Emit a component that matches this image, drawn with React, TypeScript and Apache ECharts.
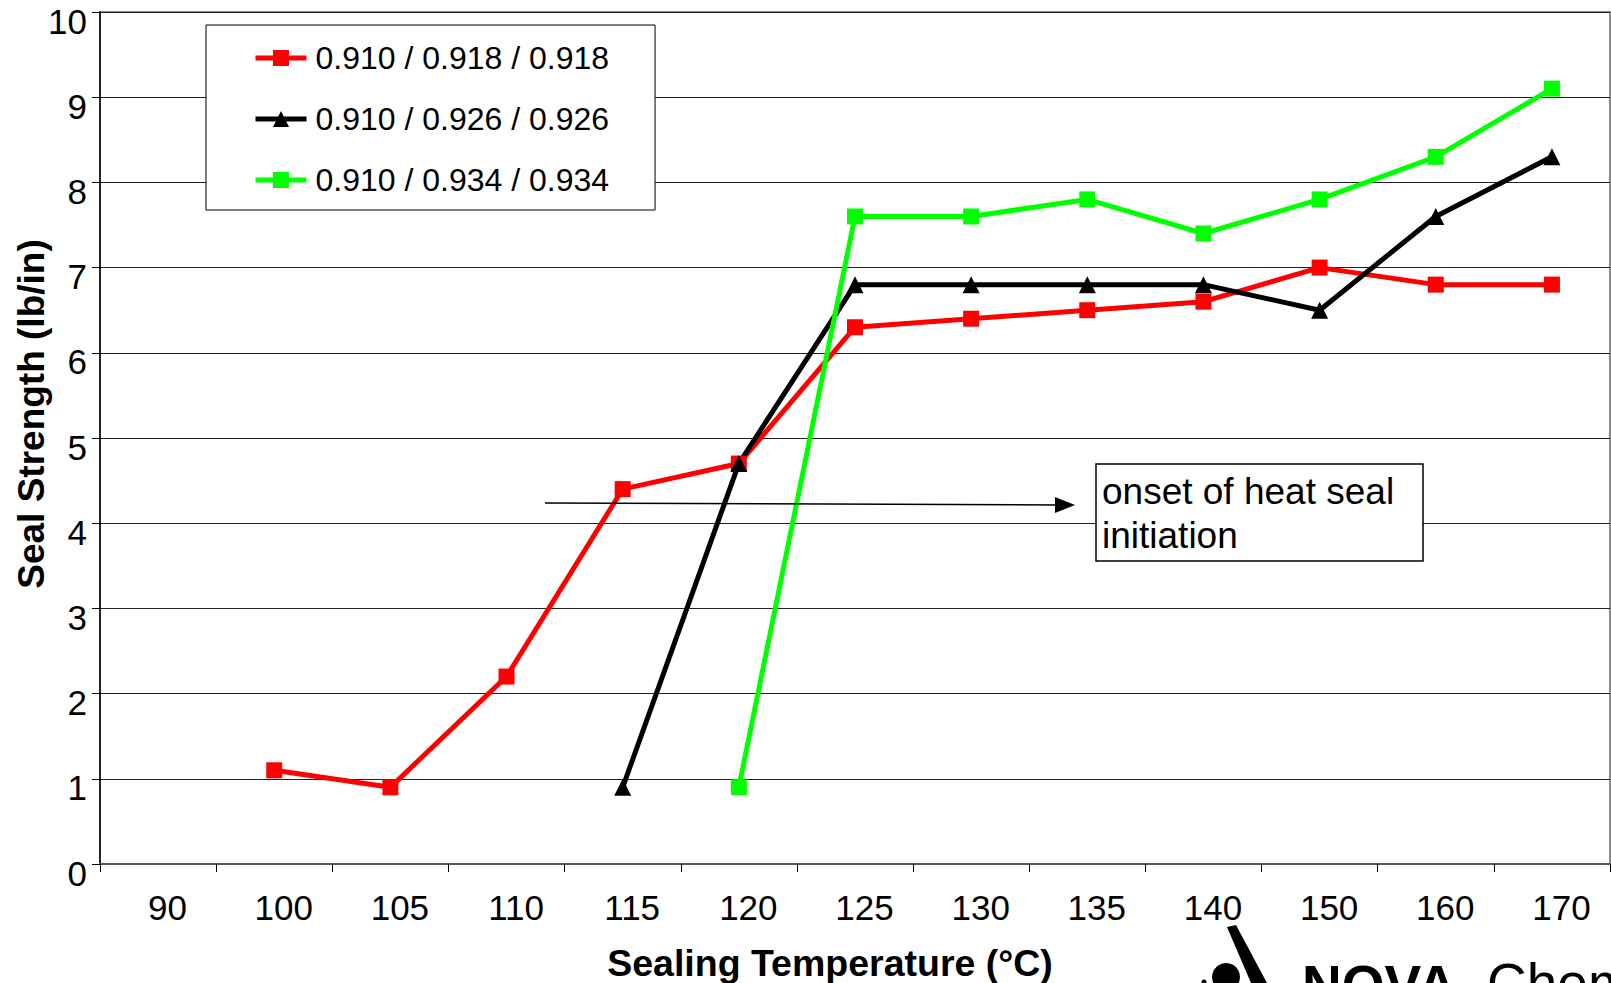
import React, { useEffect, useRef } from "react";
import * as echarts from "echarts";

// Sealing temperatures (°C) used as category labels
const temperatures = ["90", "100", "105", "110", "115", "120", "125", "130", "135", "140", "150", "160", "170"];

// Film structures (skin / core / skin densities)
const seriesNames = ["0.910 / 0.918 / 0.918", "0.910 / 0.926 / 0.926", "0.910 / 0.934 / 0.934"];

// Seal strength (lb/in) per temperature
const strength918 = [null, 1.1, 0.9, 2.2, 4.4, 4.7, 6.3, 6.4, 6.5, 6.6, 7.0, 6.8, 6.8];
const strength926 = [null, null, null, null, 0.9, 4.7, 6.8, 6.8, 6.8, 6.8, 6.5, 7.6, 8.3];
const strength934 = [null, null, null, null, null, 0.9, 7.6, 7.6, 7.8, 7.4, 7.8, 8.3, 9.1];

const seriesColors = ["#ff0000", "#000000", "#00ff00"];
const seriesSymbols = ["rect", "triangle", "rect"];

const yMin = 0;
const yMax = 10;
const yStep = 1;

const FONT = "'Liberation Sans', Arial, Helvetica, sans-serif";

export default function App() {
  const ref = useRef<HTMLDivElement>(null);

  useEffect(() => {
    if (!ref.current) return;
    const chart = echarts.init(ref.current, undefined, { renderer: "svg" });

    const values = [strength918, strength926, strength934];

    const option: any = {
      animation: false,
      backgroundColor: "#ffffff",
      textStyle: { fontFamily: FONT },
      grid: {
        left: 100,
        right: 1,
        top: 12,
        bottom: 119,
        containLabel: false,
        outerBoundsMode: "none",
        show: true,
        borderColor: "#8a8a8a",
        borderWidth: 2,
        backgroundColor: "transparent",
      },
      legend: {
        orient: "vertical",
        left: 206,
        top: 25,
        padding: [17, 46, 14, 47],
        itemWidth: 51,
        itemHeight: 20,
        itemGap: 29,
        borderColor: "#000",
        borderWidth: 1,
        backgroundColor: "#ffffff",
        lineStyle: { width: 5 },
        textStyle: {
          fontFamily: FONT,
          fontSize: 32,
          lineHeight: 32,
          color: "#000",
          padding: [0, 0, 0, 4],
        },
        data: seriesNames,
      },
      xAxis: {
        type: "category",
        data: temperatures,
        boundaryGap: true,
        name: "Sealing Temperature (°C)",
        nameLocation: "middle",
        nameGap: 80,
        nameTextStyle: {
          fontFamily: FONT,
          fontSize: 37.5,
          fontWeight: "bold",
          color: "#000",
          lineHeight: 37,
          padding: [0, 50, 0, 0],
        },
        axisLine: { show: true, lineStyle: { color: "#555", width: 2 } },
        axisTick: { show: true, length: 8, interval: 0, lineStyle: { color: "#000", width: 1 } },
        axisLabel: {
          interval: 0,
          margin: 26,
          fontFamily: FONT,
          fontSize: 35,
          lineHeight: 35,
          color: "#000",
          padding: [0, 0, 0, 19],
        },
        splitLine: { show: false },
      },
      yAxis: {
        type: "value",
        min: yMin,
        max: yMax,
        interval: yStep,
        name: "Seal Strength (lb/in)",
        nameLocation: "middle",
        nameGap: 50,
        nameMoveOverlap: false,
        nameTextStyle: {
          fontFamily: FONT,
          fontSize: 37,
          fontWeight: "bold",
          color: "#000",
          lineHeight: 37,
          padding: [0, 0, 0, 48],
        },
        axisLine: { show: true, lineStyle: { color: "#000", width: 1.5 } },
        axisTick: { show: true, length: 8, lineStyle: { color: "#000", width: 1 } },
        axisLabel: {
          margin: 13,
          fontFamily: FONT,
          fontSize: 35,
          lineHeight: 18,
          verticalAlign: "top",
          color: "#000",
        },
        splitLine: { show: true, lineStyle: { color: "#222", width: 1.2 } },
      },
      series: seriesNames.map((name, i) => ({
        name,
        type: "line",
        data: values[i],
        symbol: seriesSymbols[i],
        symbolSize: seriesSymbols[i] === "triangle" ? 17 : 16,
        showSymbol: true,
        lineStyle: { color: seriesColors[i], width: 5 },
        itemStyle: { color: seriesColors[i] },
        emphasis: { disabled: true },
        z: 3,
      })),
      graphic: [
        // Annotation arrow
        {
          type: "line",
          z: 10,
          shape: { x1: 545, y1: 503, x2: 1058, y2: 505 },
          style: { stroke: "#000", lineWidth: 1.5 },
        },
        {
          type: "polygon",
          z: 10,
          shape: { points: [[1075, 505], [1055, 497], [1055, 513]] },
          style: { fill: "#000" },
        },
        // Annotation box
        {
          type: "rect",
          z: 10,
          shape: { x: 1096, y: 464, width: 327, height: 97 },
          style: { fill: "#ffffff", stroke: "#000", lineWidth: 1.5 },
        },
        {
          type: "text",
          z: 11,
          left: 1102,
          top: 469,
          style: {
            text: "onset of heat seal\ninitiation",
            fontFamily: FONT,
            fontSize: 37,
            lineHeight: 44,
            fill: "#000",
          },
        },
        // Company mark at the bottom
        {
          type: "polygon",
          z: 10,
          shape: { points: [[1227, 927], [1236, 925], [1267, 983], [1251, 983]] },
          style: { fill: "#000" },
        },
        {
          type: "circle",
          z: 10,
          shape: { cx: 1226, cy: 977, r: 14 },
          style: { fill: "#000" },
        },
        {
          type: "circle",
          z: 10,
          shape: { cx: 1204, cy: 982, r: 2.5 },
          style: { fill: "#000" },
        },
        {
          type: "text",
          z: 10,
          x: 1302,
          y: 985,
          style: {
            text: "NOVA",
            fontFamily: FONT,
            fontSize: 55,
            fontWeight: "bold",
            fill: "#000",
            verticalAlign: "middle",
          },
        },
        {
          type: "text",
          z: 10,
          x: 1487,
          y: 983,
          style: {
            text: "Chemicals",
            fontFamily: FONT,
            fontSize: 55,
            fill: "#000",
            verticalAlign: "middle",
          },
        },
      ],
    };

    chart.setOption(option);
    return () => chart.dispose();
  }, []);

  return (
    <div
      ref={ref}
      style={{ position: "fixed", left: 0, top: 0, width: 1611, height: 983, overflow: "hidden", background: "#fff" }}
    />
  );
}
